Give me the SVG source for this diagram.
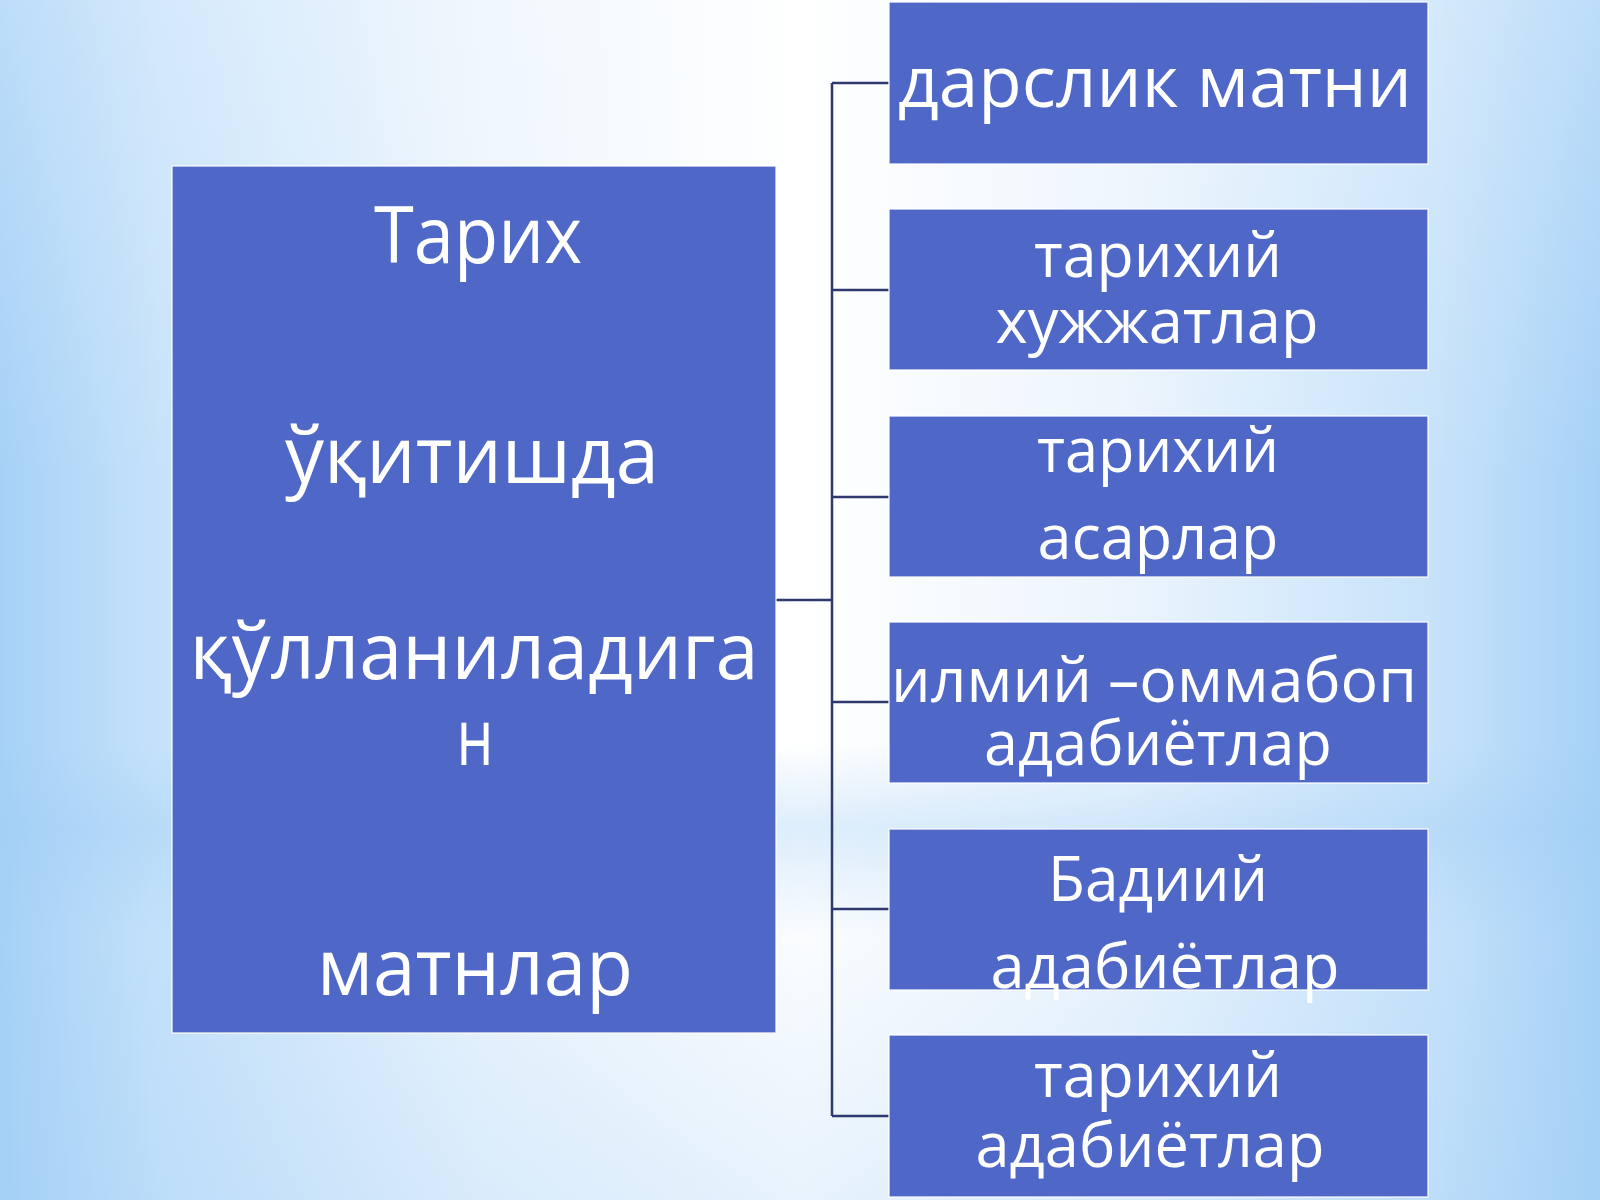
<svg xmlns="http://www.w3.org/2000/svg" width="1600" height="1200" viewBox="0 0 1600 1200">
  <defs>
    <linearGradient id="bg" x1="0" y1="0" x2="1" y2="0">
      <stop offset="0" stop-color="#a6d1f7"/>
      <stop offset="0.1" stop-color="#c6e2fa"/>
      <stop offset="0.3" stop-color="#ecf5fd"/>
      <stop offset="0.5" stop-color="#ffffff"/>
      <stop offset="0.7" stop-color="#ecf5fd"/>
      <stop offset="0.9" stop-color="#c6e2fa"/>
      <stop offset="1" stop-color="#a6d1f7"/>
    </linearGradient>
    <linearGradient id="band" x1="0" y1="0" x2="0" y2="1">
      <stop offset="0" stop-color="#ffffff" stop-opacity="0.25"/>
      <stop offset="0.4" stop-color="#ffffff" stop-opacity="0"/>
      <stop offset="0.62" stop-color="#9fcdf5" stop-opacity="0"/>
      <stop offset="0.69" stop-color="#9fcdf5" stop-opacity="0.35"/>
      <stop offset="0.78" stop-color="#9fcdf5" stop-opacity="0.05"/>
      <stop offset="1" stop-color="#9fcdf5" stop-opacity="0.25"/>
    </linearGradient>
    <style>
      .box { fill: #4f67c7; stroke: #ffffff; stroke-width: 1.5; stroke-opacity: 0.8; }
      .t { fill: #ffffff; font-family: "Open Sans", "Noto Sans", "DejaVu Sans", sans-serif; text-anchor: middle; }
      .big { font-size: 78px; }
      .b1 { font-size: 71px; }
      .sm { font-size: 63px; }
      .conn { stroke: #2e3a6e; stroke-width: 2.5; fill: none; }
    </style>
  </defs>
  <rect x="0" y="0" width="1600" height="1200" fill="url(#bg)"/>
  <rect x="0" y="0" width="1600" height="1200" fill="url(#band)"/>

  <g id="connectors">
    <path class="conn" d="M776 600 H832"/>
    <path class="conn" d="M832 83 V1116"/>
    <path class="conn" d="M832 83 H889 M832 290 H889 M832 497 H889 M832 702 H889 M832 909 H889 M832 1116 H889"/>
  </g>

  <g id="main">
    <rect class="box" x="172" y="166" width="604" height="867"/>
    <text class="t big" x="478" y="263" textLength="208" lengthAdjust="spacingAndGlyphs">Тарих</text>
    <text class="t big" x="472" y="483" textLength="374" lengthAdjust="spacingAndGlyphs">ўқитишда</text>
    <text class="t big" x="474" y="679" textLength="569" lengthAdjust="spacingAndGlyphs">қўлланиладига</text>
    <text class="t big" x="475" y="765" textLength="37" lengthAdjust="spacingAndGlyphs">н</text>
    <text class="t big" x="475" y="995" textLength="316" lengthAdjust="spacingAndGlyphs">матнлар</text>
  </g>

  <g id="n1">
    <rect class="box" x="889" y="2" width="539" height="162"/>
    <text class="t b1" x="1155" y="107" textLength="514" lengthAdjust="spacingAndGlyphs">дарслик матни</text>
  </g>
  <g id="n2">
    <rect class="box" x="889" y="209" width="539" height="161"/>
    <text class="t sm" x="1158" y="277" textLength="248" lengthAdjust="spacingAndGlyphs">тарихий</text>
    <text class="t sm" x="1157" y="343" textLength="323" lengthAdjust="spacingAndGlyphs">хужжатлар</text>
  </g>
  <g id="n3">
    <rect class="box" x="889" y="416" width="539" height="161"/>
    <text class="t sm" x="1158" y="472" textLength="242" lengthAdjust="spacingAndGlyphs">тарихий</text>
    <text class="t sm" x="1158" y="559" textLength="241" lengthAdjust="spacingAndGlyphs">асарлар</text>
  </g>
  <g id="n4">
    <rect class="box" x="889" y="622" width="539" height="161"/>
    <text class="t sm" x="1154" y="702" textLength="526" lengthAdjust="spacingAndGlyphs">илмий –оммабоп</text>
    <text class="t sm" x="1158" y="765" textLength="348" lengthAdjust="spacingAndGlyphs">адабиётлар</text>
  </g>
  <g id="n5">
    <rect class="box" x="889" y="829" width="539" height="161"/>
    <text class="t sm" x="1158" y="901" textLength="220" lengthAdjust="spacingAndGlyphs">Бадиий</text>
    <text class="t sm" x="1165" y="988" textLength="349" lengthAdjust="spacingAndGlyphs">адабиётлар</text>
  </g>
  <g id="n6">
    <rect class="box" x="889" y="1035" width="539" height="162"/>
    <text class="t sm" x="1158" y="1097" textLength="248" lengthAdjust="spacingAndGlyphs">тарихий</text>
    <text class="t sm" x="1150" y="1167" textLength="349" lengthAdjust="spacingAndGlyphs">адабиётлар</text>
  </g>
</svg>
